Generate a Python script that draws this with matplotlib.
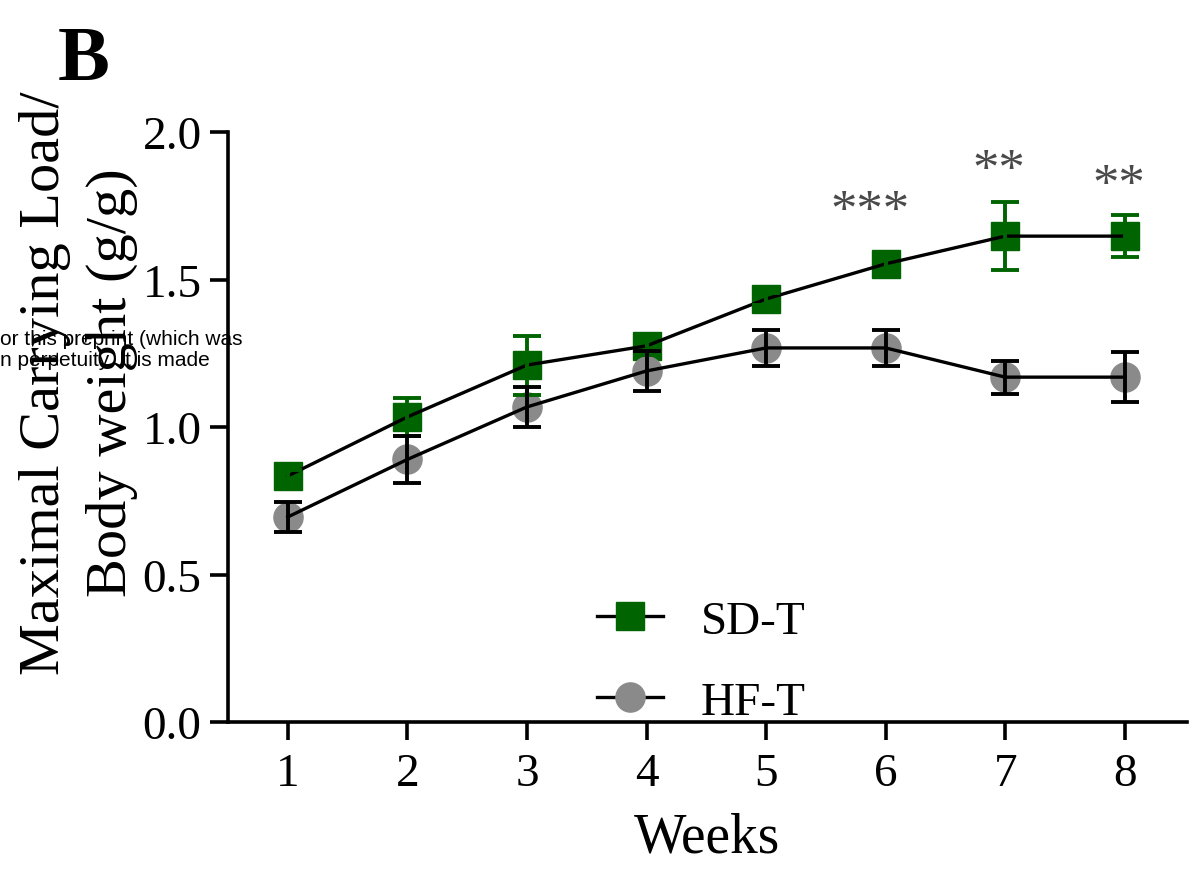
import matplotlib
matplotlib.use("Agg")
import matplotlib.pyplot as plt
import numpy as np

# Weekly maximal carrying load normalised to body weight (mean ± SEM)
weeks = [1, 2, 3, 4, 5, 6, 7, 8]
sd_mean = [0.834, 1.034, 1.21, 1.275, 1.434, 1.553, 1.647, 1.647]
sd_err = [0.02, 0.065, 0.10, 0.03, 0.02, 0.03, 0.115, 0.071]
hf_mean = [0.695, 0.89, 1.068, 1.19, 1.268, 1.268, 1.169, 1.169]
hf_err = [0.05, 0.08, 0.068, 0.068, 0.062, 0.062, 0.056, 0.085]

# Significance marks above SD-T points
sig_weeks = [6, 7, 8]
sig_labels = ["***", "**", "**"]
sig_y = [1.746, 1.885, 1.834]
sig_dx = [-0.13, -0.05, -0.05]

y_ticks = [0.0, 0.5, 1.0, 1.5, 2.0]
y_tick_labels = ["0.0", "0.5", "1.0", "1.5", "2.0"]

green = "#006400"
grey = "#8a8a8a"
serif = ["Liberation Serif", "DejaVu Serif"]

plt.rcParams["font.family"] = serif

fig = plt.figure(figsize=(11.9, 8.7), dpi=100)
ax = fig.add_axes([228 / 1190, 1 - 723 / 870, (1187 - 228) / 1190, (723 - 133) / 870])

# SD-T
ax.plot(weeks, sd_mean, color="black", lw=2.4, zorder=4)
ax.plot(weeks, sd_mean, ls="none", marker="s", ms=20, color=green,
        mec=green, zorder=3)
ax.errorbar(weeks, sd_mean, yerr=sd_err, fmt="none", ecolor=green,
            elinewidth=2.8, capsize=10, capthick=2.8, zorder=5)

# HF-T
ax.plot(weeks, hf_mean, color="black", lw=2.4, zorder=4)
ax.plot(weeks, hf_mean, ls="none", marker="o", ms=21, color=grey,
        mec=grey, zorder=3)
ax.errorbar(weeks, hf_mean, yerr=hf_err, fmt="none", ecolor="black",
            elinewidth=2.8, capsize=10, capthick=2.8, zorder=5)

for w, lab, yy, dx in zip(sig_weeks, sig_labels, sig_y, sig_dx):
    ax.text(w + dx, yy, lab, ha="center", va="center_baseline", fontsize=38,
            color="#4a4a4a")

# Legend handles
h_sd, = ax.plot([], [], color="black", lw=2.4, marker="s", ms=20,
                mfc=green, mec=green)
h_hf, = ax.plot([], [], color="black", lw=2.4, marker="o", ms=21,
                mfc=grey, mec=grey)
leg = ax.legend([h_sd, h_hf], ["SD-T", "HF-T"], loc="lower left",
                bbox_to_anchor=(0.34, -0.075), frameon=False, fontsize=34,
                handlelength=1.4, handletextpad=0.8, labelspacing=0.8)

ax.set_xlim(0.5, 8.52)
ax.set_ylim(0, 2.0)
ax.set_xticks(weeks)
ax.set_xticklabels([str(w) for w in weeks])
ax.set_yticks(y_ticks)
ax.set_yticklabels(y_tick_labels)

for s in ["top", "right"]:
    ax.spines[s].set_visible(False)
for s in ["left", "bottom"]:
    ax.spines[s].set_linewidth(2.6)
ax.tick_params(axis="both", which="major", length=13, width=2.6,
               labelsize=34, direction="out")
ax.tick_params(axis="y", pad=6)
ax.tick_params(axis="x", pad=9)

ax.set_xlabel("Weeks", fontsize=40, labelpad=12)

fig.text(45 / 1190, 1 - 383 / 870, "Maximal Carrying Load/", rotation=90,
         ha="center", va="center", fontsize=42)
fig.text(112 / 1190, 1 - 383 / 870, "Body weight (g/g)", rotation=90,
         ha="center", va="center", fontsize=42)

fig.text(58 / 1190, 1 - 80 / 870, "B", fontsize=56, fontweight="bold",
         ha="left", va="baseline")

fig.text(0, 1 - 340 / 870, "or this preprint (which was", fontsize=15,
         family=["Liberation Sans", "DejaVu Sans"], ha="left", va="center")
fig.text(0, 1 - 361 / 870, "n perpetuity. It is made", fontsize=15,
         family=["Liberation Sans", "DejaVu Sans"], ha="left", va="center")

fig.savefig("out.png", dpi=100)
